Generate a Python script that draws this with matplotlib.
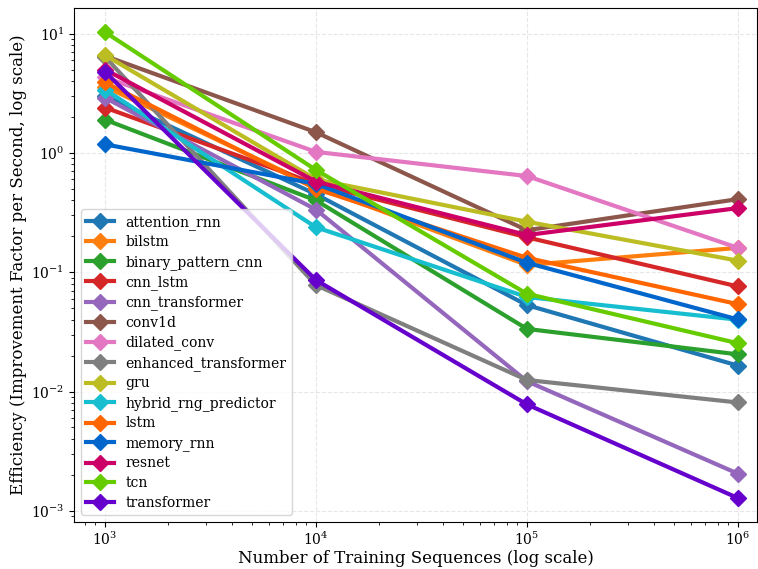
import matplotlib
matplotlib.use("Agg")
import matplotlib.pyplot as plt

plt.rcParams['font.family'] = ['DejaVu Serif']

sizes = [1e3, 1e4, 1e5, 1e6]

attention_rnn = [3.0, 0.45, 0.053, 0.0165]
bilstm = [3.6, 0.52, 0.115, 0.16]
binary_pattern_cnn = [1.9, 0.40, 0.0335, 0.0205]
cnn_lstm = [2.4, 0.55, 0.196, 0.076]
cnn_transformer = [2.9, 0.335, 0.0122, 0.00205]
conv1d = [6.5, 1.49, 0.225, 0.41]
dilated_conv = [4.3, 1.02, 0.64, 0.16]
enhanced_transformer = [6.4, 0.078, 0.0125, 0.0081]
gru = [6.6, 0.60, 0.265, 0.125]
hybrid_rng_predictor = [3.4, 0.238, 0.062, 0.040]
lstm = [3.9, 0.50, 0.132, 0.054]
memory_rnn = [1.18, 0.55, 0.12, 0.0402]
resnet = [5.0, 0.575, 0.205, 0.345]
tcn = [10.3, 0.72, 0.066, 0.0254]
transformer = [4.8, 0.086, 0.0078, 0.00128]

series = [
    ("attention_rnn", attention_rnn, "#1f77b4"),
    ("bilstm", bilstm, "#ff7f0e"),
    ("binary_pattern_cnn", binary_pattern_cnn, "#2ca02c"),
    ("cnn_lstm", cnn_lstm, "#d62728"),
    ("cnn_transformer", cnn_transformer, "#9467bd"),
    ("conv1d", conv1d, "#8c564b"),
    ("dilated_conv", dilated_conv, "#e377c2"),
    ("enhanced_transformer", enhanced_transformer, "#7f7f7f"),
    ("gru", gru, "#bcbd22"),
    ("hybrid_rng_predictor", hybrid_rng_predictor, "#17becf"),
    ("lstm", lstm, "#ff6600"),
    ("memory_rnn", memory_rnn, "#0066cc"),
    ("resnet", resnet, "#cc0066"),
    ("tcn", tcn, "#66cc00"),
    ("transformer", transformer, "#6600cc"),
]

fig = plt.figure(figsize=(7.58, 5.69), dpi=100)
ax = fig.add_axes([0.0976, 0.0826, 0.901, 0.9034])

for name, vals, col in series:
    ax.plot(sizes, vals, marker='D', markersize=8, linewidth=3, color=col, label=name)

ax.set_xscale('log')
ax.set_yscale('log')
ax.set_xlim(713, 1.23e6)
ax.set_ylim(8.07e-4, 16.4)
ax.grid(True, which='major', linestyle='--', alpha=0.3)
ax.tick_params(axis='x', which='major', pad=2.5)
ax.set_xlabel('Number of Training Sequences (log scale)', fontsize=12, labelpad=2)
ax.set_ylabel('Efficiency (Improvement Factor per Second, log scale)', fontsize=12, labelpad=3)
ax.legend(loc='lower left', fontsize=10, labelspacing=0.4, borderaxespad=0.5)

fig.savefig('out.png', dpi=100)
